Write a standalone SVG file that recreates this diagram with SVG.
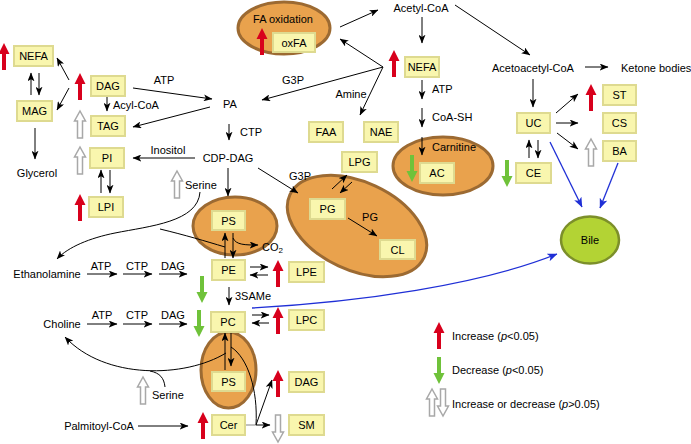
<svg xmlns="http://www.w3.org/2000/svg" xmlns:xlink="http://www.w3.org/1999/xlink" width="691" height="444" viewBox="0 0 691 444">
<style>
text{font-family:"Liberation Sans",Arial,sans-serif;font-size:11px;fill:#000;dominant-baseline:central}
.m{text-anchor:middle}
.box{fill:#F9F6AE;stroke:#DEDA90;stroke-width:2}
.ell{fill:#E9A24D;stroke:#9C6A32;stroke-width:3}
.ln{fill:none;stroke:#000;stroke-width:1}
.ar{fill:none;stroke:#000;stroke-width:1;marker-end:url(#ah)}
.bl{fill:none;stroke:#1F2FD6;stroke-width:1.3;marker-end:url(#bh)}
.gl{fill:none;stroke:#999;stroke-width:1.2}
</style>
<defs>
<marker id="ah" viewBox="0 0 10 8" refX="9.5" refY="4" markerWidth="9" markerHeight="7" markerUnits="userSpaceOnUse" orient="auto"><path d="M0,0 L10,4 L0,8 L2.5,4 Z" fill="#000"/></marker>
<marker id="bh" viewBox="0 0 10 8" refX="9.5" refY="4" markerWidth="10" markerHeight="8" markerUnits="userSpaceOnUse" orient="auto"><path d="M0,0 L10,4 L0,8 L2.5,4 Z" fill="#1F2FD6"/></marker>
<path id="up" d="M0,0 L5.5,11 L2,11 L2,27 L-2,27 L-2,11 L-5.5,11 Z" fill="#D8001C"/>
<path id="dn" d="M-2,0 L2,0 L2,16 L5.5,16 L0,27 L-5.5,16 L-2,16 Z" fill="#6FC23A"/>
<path id="gu" d="M0,0 L5.5,10 L2.5,10 L2.5,27 L-2.5,27 L-2.5,10 L-5.5,10 Z" fill="#fff" stroke="#A8A8A8" stroke-width="1.5"/>
<path id="gd" d="M-2.5,0 L2.5,0 L2.5,17 L5.5,17 L0,27 L-5.5,17 L-2.5,17 Z" fill="#fff" stroke="#A8A8A8" stroke-width="1.5"/>
</defs>

<!-- ellipses (compartments) -->
<g id="fa-oxidation"><ellipse class="ell" cx="284" cy="28" rx="46" ry="26"/><text class="m" x="283" y="19">FA oxidation</text></g>
<g id="pg-compartment"><ellipse class="ell" cx="357" cy="226" rx="74" ry="44" transform="rotate(25 357 226)"/></g>
<g id="carnitine-compartment"><ellipse class="ell" cx="443" cy="166" rx="50" ry="29"/><text x="432" y="147">Carnitine</text></g>
<g id="ps-compartment-1"><ellipse class="ell" cx="235" cy="226" rx="42" ry="29"/></g>
<g id="ps-compartment-2"><ellipse class="ell" cx="228.5" cy="370" rx="27.5" ry="38"/></g>
<g id="bile"><ellipse cx="590" cy="240" rx="29" ry="23.5" fill="#B3D334" stroke="#7C8F2A" stroke-width="2.5"/><text class="m" x="590" y="240">Bile</text></g>

<!-- connectors -->
<g id="connectors">
<path class="ar" d="M69,80 L57,58"/>
<path class="ar" d="M69,88 L57,110"/>
<path class="ar" d="M31,95 L31,73"/>
<path class="ar" d="M39,73 L39,95"/>
<path class="ar" d="M35,128 L35,159"/>
<path class="ar" d="M107,97 L107,111"/>
<path class="ar" d="M133,88 L212,99"/>
<path class="ar" d="M210,107 L133,127"/>
<path class="ar" d="M229,124 L229,140"/>
<path class="ar" d="M195,158 L133,158"/>
<path class="ar" d="M101,193 L101,170"/>
<path class="ar" d="M110,170 L110,193"/>
<path class="ar" d="M228,168 L228,196"/>
<path class="ar" d="M258,168 L298,193"/>
<path class="ar" d="M200,192 C198,222 150,226 115,233 C90,238 68,247 57,259"/>
<path class="ln" d="M225,247 C205,241 185,235 160,229"/>
<path class="ar" d="M225,258 L225,233"/>
<path class="ar" d="M233,233 L233,258"/>
<path class="ar" d="M233,238 C236,245 245,245 258,245"/>
<path class="ar" d="M87,274 L117,274"/>
<path class="ar" d="M123,274 L152,274"/>
<path class="ar" d="M159,274 L187,274"/>
<path class="ar" d="M250,267 L268,267"/>
<path class="ar" d="M268,275 L250,275"/>
<path class="ar" d="M229,287 L229,305"/>
<path class="ar" d="M87,324 L117,324"/>
<path class="ar" d="M123,324 L152,324"/>
<path class="ar" d="M159,324 L187,324"/>
<path class="ar" d="M252,315 L269,315"/>
<path class="ar" d="M269,323 L252,323"/>
<path class="ar" d="M225,370 L225,333"/>
<path class="ar" d="M231,333 L231,366"/>
<path class="ar" d="M226,353 C185,378 105,380 65,337"/>
<path class="ln" d="M165,387 C164,378 160,373 150,371"/>
<path class="ln" d="M231,347 C248,358 258,390 256,425"/>
<path class="ar" d="M138,426 L188,426"/>
<path class="gl" d="M245,425 L256,425"/>
<path class="ar" d="M256,425 L270,425"/>
<path class="ar" d="M256,425 L272,380"/>
<path class="ar" d="M383,67 L340,39"/>
<path class="ar" d="M383,67 L262,100"/>
<path class="ar" d="M383,67 L360,115"/>
<path class="ar" d="M340,27 L378,10"/>
<path class="ar" d="M422,17 L422,43"/>
<path class="ar" d="M422,80 L422,99"/>
<path class="ar" d="M422,108 L422,127"/>
<path class="ar" d="M422,137 L422,155"/>
<path class="ar" d="M332,189 L347,175"/>
<path class="ar" d="M352,182 L340,193"/>
<path class="ar" d="M348,218 L377,236"/>
<path class="ar" d="M455,5 L530,55"/>
<path class="ar" d="M585,67 L608,67"/>
<path class="ar" d="M533,79 L533,107"/>
<path class="ar" d="M556,113 L578,94"/>
<path class="ar" d="M556,123 L578,123"/>
<path class="ar" d="M557,133 L578,149"/>
<path class="ar" d="M529,158 L529,140"/>
<path class="ar" d="M538,140 L538,158"/>
<path class="bl" d="M550,142 L582,207"/>
<path class="bl" d="M618,163 L600,208"/>
<path class="bl" d="M252,308 C360,302 480,285 557,254"/>
</g>

<!-- nodes -->
<g id="nefa-left"><rect class="box" x="14" y="46" width="39" height="20"/><text class="m" x="33.5" y="56">NEFA</text><use href="#up" x="4" y="43"/></g>
<g id="mag"><rect class="box" x="17" y="101" width="35" height="20"/><text class="m" x="34.5" y="111">MAG</text></g>
<g id="dag-top"><rect class="box" x="91" y="76" width="34" height="20"/><text class="m" x="108" y="86">DAG</text><use href="#up" x="80" y="73"/></g>
<g id="tag"><rect class="box" x="91" y="116" width="34" height="20"/><text class="m" x="108" y="126">TAG</text><use href="#gu" x="80" y="111"/></g>
<g id="pi"><rect class="box" x="90" y="148" width="34" height="20"/><text class="m" x="107" y="158">PI</text><use href="#gu" x="80" y="147"/></g>
<g id="lpi"><rect class="box" x="89" y="197" width="34" height="20"/><text class="m" x="106" y="207">LPI</text><use href="#up" x="80" y="194"/></g>
<g id="oxfa"><rect class="box" x="273" y="33" width="42" height="19"/><text class="m" x="294" y="42.5">oxFA</text><use href="#up" x="262" y="28"/></g>
<g id="nefa-mid"><rect class="box" x="405" y="57" width="34" height="20"/><text class="m" x="422" y="67">NEFA</text><use href="#up" x="394" y="50"/></g>
<g id="faa"><rect class="box" x="309" y="122" width="34" height="20"/><text class="m" x="326" y="132">FAA</text></g>
<g id="nae"><rect class="box" x="364" y="122" width="34" height="20"/><text class="m" x="381" y="132">NAE</text></g>
<g id="lpg"><rect class="box" x="342" y="152" width="35" height="20"/><text class="m" x="359.5" y="162">LPG</text></g>
<g id="pg"><rect class="box" x="310" y="199" width="35" height="20"/><text class="m" x="327.5" y="209">PG</text></g>
<g id="cl"><rect class="box" x="380" y="240" width="35" height="19"/><text class="m" x="397.5" y="249.5">CL</text></g>
<g id="ac"><rect class="box" x="420" y="163" width="34" height="20"/><text class="m" x="437" y="173">AC</text><use href="#dn" x="412" y="155"/></g>
<g id="uc"><rect class="box" x="517" y="113" width="33" height="20"/><text class="m" x="533.5" y="123">UC</text></g>
<g id="st"><rect class="box" x="603" y="85" width="33" height="20"/><text class="m" x="619.5" y="95">ST</text><use href="#up" x="591" y="84"/></g>
<g id="cs"><rect class="box" x="603" y="113" width="33" height="20"/><text class="m" x="619.5" y="123">CS</text></g>
<g id="ba"><rect class="box" x="603" y="141" width="33" height="20"/><text class="m" x="619.5" y="151">BA</text><use href="#gu" x="591" y="139"/></g>
<g id="ce"><rect class="box" x="516" y="163" width="35" height="20"/><text class="m" x="533.5" y="173">CE</text><use href="#dn" x="507" y="160"/></g>
<g id="ps-1"><rect class="box" x="212" y="211" width="33" height="19"/><text class="m" x="228.5" y="220.5">PS</text></g>
<g id="pe"><rect class="box" x="212" y="260" width="33" height="20"/><text class="m" x="228.5" y="270">PE</text><use href="#dn" x="202" y="276"/></g>
<g id="lpe"><rect class="box" x="289" y="262" width="35" height="20"/><text class="m" x="306.5" y="272">LPE</text><use href="#up" x="278" y="260"/></g>
<g id="pc"><rect class="box" x="211" y="312" width="34" height="20"/><text class="m" x="228" y="322">PC</text><use href="#dn" x="199" y="310"/></g>
<g id="lpc"><rect class="box" x="289" y="310" width="35" height="20"/><text class="m" x="306.5" y="320">LPC</text><use href="#up" x="278" y="307"/></g>
<g id="ps-2"><rect class="box" x="212" y="372" width="33" height="19"/><text class="m" x="228.5" y="381.5">PS</text></g>
<g id="dag-bottom"><rect class="box" x="289" y="372" width="35" height="20"/><text class="m" x="306.5" y="382">DAG</text><use href="#up" x="278" y="370"/></g>
<g id="cer"><rect class="box" x="212" y="415" width="33" height="20"/><text class="m" x="228.5" y="425">Cer</text><use href="#up" x="203" y="412"/></g>
<g id="sm"><rect class="box" x="289" y="415" width="35" height="20"/><text class="m" x="306.5" y="425">SM</text><use href="#gd" x="278" y="415"/></g>

<!-- plain labels -->
<g id="labels">
<text class="m" x="164" y="80">ATP</text>
<text x="113" y="105">Acyl-CoA</text>
<text class="m" x="230" y="104">PA</text>
<text x="240" y="132">CTP</text>
<text class="m" x="228" y="158">CDP-DAG</text>
<text class="m" x="168" y="150">Inositol</text>
<text class="m" x="37" y="173">Glycerol</text>
<g id="serine-top"><use href="#gu" x="177" y="171"/><text x="185" y="185">Serine</text></g>
<text class="m" x="300" y="176">G3P</text>
<text class="m" x="47" y="274">Ethanolamine</text>
<text class="m" x="101" y="266">ATP</text>
<text class="m" x="137" y="266">CTP</text>
<text class="m" x="173" y="266">DAG</text>
<text x="235" y="296">3SAMe</text>
<text x="262" y="247">CO<tspan dy="3" font-size="8">2</tspan></text>
<text class="m" x="370" y="217">PG</text>
<text class="m" x="62" y="324">Choline</text>
<text class="m" x="102" y="315">ATP</text>
<text class="m" x="137" y="315">CTP</text>
<text class="m" x="173" y="315">DAG</text>
<g id="serine-bottom"><use href="#gu" x="143" y="377"/><text x="152" y="395">Serine</text></g>
<text class="m" x="99" y="426">Palmitoyl-CoA</text>
<text class="m" x="421" y="8">Acetyl-CoA</text>
<text class="m" x="293" y="80">G3P</text>
<text class="m" x="351" y="94">Amine</text>
<text x="432" y="89">ATP</text>
<text x="432" y="117">CoA-SH</text>
<text class="m" x="533" y="68">Acetoacetyl-CoA</text>
<text x="621" y="68">Ketone bodies</text>
</g>

<!-- legend -->
<g id="legend">
<use href="#up" x="439" y="322"/>
<text x="452" y="336">Increase (<tspan font-style="italic">p</tspan>&lt;0.05)</text>
<use href="#dn" x="439" y="357"/>
<text x="452" y="370">Decrease (<tspan font-style="italic">p</tspan>&lt;0.05)</text>
<use href="#gu" x="432" y="389"/>
<use href="#gd" x="443" y="389"/>
<text x="452" y="404">Increase or decrease (<tspan font-style="italic">p</tspan>&gt;0.05)</text>
</g>
</svg>
